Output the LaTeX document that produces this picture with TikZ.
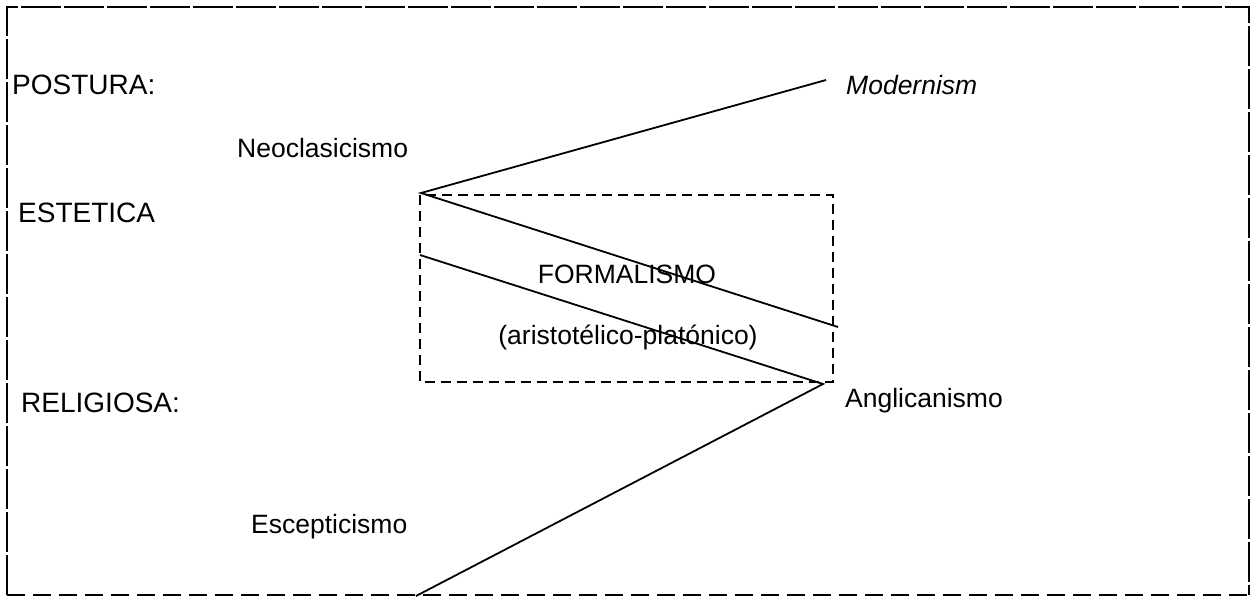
\documentclass[tikz,border=0pt]{standalone}
\usepackage{fontspec}
\setmainfont{Liberation Sans}
\usepackage{tikz}
\usetikzlibrary{shapes,arrows}

\begin{document}
\begin{tikzpicture}[x=1pt, y=-1pt,
    label/.style={inner sep=0pt, anchor=base west, font=\fontsize{26.5}{30}\selectfont},
    side/.style={label, font=\fontsize{28}{32}\selectfont},
    conn/.style={line width=1.8pt},
    frame/.style={line width=1.3pt, dash pattern=on 40pt off 3pt},
    box/.style={line width=1.4pt, dash pattern=on 10pt off 6pt}]
    \useasboundingbox (0,0) rectangle (1257,599);
    % outer frame
    \draw[frame] (7,595) -- (7,7) -- (1249,7) -- (1249,595);
    \draw[line width=1.3pt, dash pattern=on 18pt off 8pt] (7,595) -- (1249,595);
    % vertices
    \coordinate (apexL) at (421,193);
    \coordinate (modEnd) at (826,80);
    \coordinate (formEnd) at (838,327);
    \coordinate (lowStart) at (420,255);
    \coordinate (apexR) at (823,384);
    \coordinate (escEnd) at (416,596);
    % dashed box
    \draw[box] (420,195) rectangle (833,382);
    % draw diagram
    \draw[conn] (modEnd) -- (apexL) -- (formEnd);
    \draw[conn] (lowStart) -- (apexR) -- (escEnd);
    % labels
    \node[side] (postura) at (12,95) {POSTURA:};
    \node[side] (estetica) at (18,222) {ESTETICA};
    \node[side] (religiosa) at (21,412) {RELIGIOSA:};
    \node[label] (neo) at (237,157) {Neoclasicismo};
    \node[label] (modernism) at (846,95) {\itshape Modernism};
    \node[label] (angli) at (845,407) {Anglicanismo};
    \node[label] (escep) at (251,533) {Escepticismo};
    \node[label, anchor=base] (formalismo) at (627,283) {FORMALISMO};
    \node[label, anchor=base] (aristo) at (628,344) {(aristotélico-platónico)};
\end{tikzpicture}
\end{document}
